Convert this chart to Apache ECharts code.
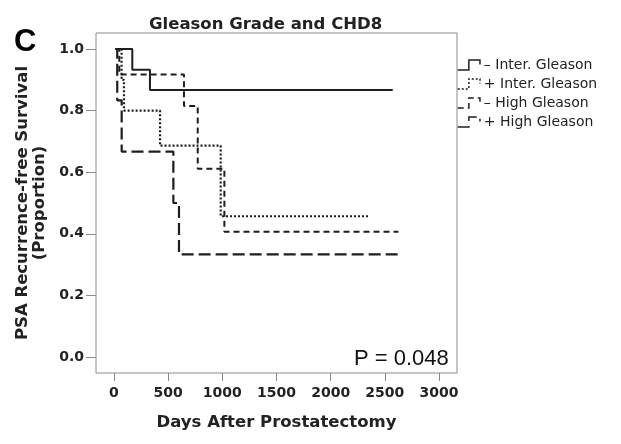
<!DOCTYPE html>
<html lang="en">
<head>
    <meta charset="UTF-8">
    <title>Gleason Grade and CHD8</title>
    <style>
        * {
            margin: 0;
            padding: 0;
        }

        html, body {
            width: 100%;
            height: 100%;
            background: #fff;
        }

        #chart {
            width: 621px;
            height: 444px;
        }
    </style>
    <script src="https://cdn.jsdelivr.net/npm/echarts@6/dist/echarts.min.js"></script>
</head>
<body>
<div id="chart"></div>
<script>
    // series names (CHD8 status - / + within each Gleason group)
    const seriesNames = ['– Inter. Gleason', '+ Inter. Gleason', '– High Gleason', '+ High Gleason']

    // Kaplan-Meier steps (days, proportion)
    const interMinusDays = [15, 169, 332, 2573]
    const interMinusSurv = [1, 0.933, 0.867, 0.867]
    const interPlusDays = [30, 70, 92, 425, 985, 2351]
    const interPlusSurv = [1, 0.9, 0.8, 0.686, 0.457, 0.457]
    const highMinusDays = [20, 49, 646, 773, 1019, 2625]
    const highMinusSurv = [1, 0.917, 0.815, 0.611, 0.407, 0.407]
    const highPlusDays = [10, 30, 71, 548, 600, 2634]
    const highPlusSurv = [1, 0.833, 0.667, 0.5, 0.333, 0.333]

    // tick labels
    const xTicks = [0, 500, 1000, 1500, 2000, 2500, 3000]
    const yTicks = [0, 0.2, 0.4, 0.6, 0.8, 1.0]

    const pValueText = 'P = 0.048'

    function zip(xs, ys) {
        return xs.map((x, i) => [x, ys[i]])
    }

    const lineColor = '#1e1e1e'
    const styles = [
        {type: 'solid', width: 2},
        {type: [2, 2], width: 2.2},
        {type: [6, 4], width: 2},
        {type: [12, 5], width: 2.2}
    ]
    const stepIcon = 'path://M0,10 L10,10 L10,1 L20,1 L20,5'

    const chart = echarts.init(document.getElementById('chart'))
    const labelFont = {
        fontFamily: 'DejaVu Sans',
        fontWeight: 'bold',
        fontSize: 14,
        color: '#222'
    }

    const option = {
        animation: false,
        title: {
            text: 'Gleason Grade and CHD8',
            left: 144,
            top: 11,
            textStyle: {
                fontFamily: 'DejaVu Sans',
                fontWeight: 'bold',
                fontSize: 16.5,
                color: '#222'
            }
        },
        grid: {
            left: 96,
            top: 33,
            right: 164,
            bottom: 71,
            show: true,
            borderColor: '#8a8a8a',
            borderWidth: 1,
            backgroundColor: '#fff'
        },
        legend: {
            orient: 'vertical',
            left: 457,
            top: 58,
            itemWidth: 26,
            itemHeight: 10,
            itemGap: 5,
            padding: 0,
            textStyle: {
                fontFamily: 'DejaVu Sans',
                fontSize: 14,
                color: '#222',
                padding: [0, 0, 0, -3]
            },
            data: seriesNames.map((n, i) => ({
                name: n,
                icon: stepIcon,
                itemStyle: {
                    color: 'transparent',
                    borderColor: lineColor,
                    borderWidth: 1.5,
                    borderType: styles[i].type
                }
            }))
        },
        xAxis: {
            type: 'value',
            min: -166,
            max: 3166,
            name: 'Days After Prostatectomy',
            nameLocation: 'middle',
            nameGap: 41,
            nameTextStyle: Object.assign({}, labelFont, {fontSize: 16.5}),
            axisLine: {show: false, onZero: false},
            splitLine: {show: false},
            axisTick: {
                show: true,
                length: 8,
                customValues: xTicks,
                lineStyle: {color: '#8a8a8a'}
            },
            axisLabel: Object.assign({}, labelFont, {
                customValues: xTicks,
                margin: 13,
                formatter: v => String(v)
            })
        },
        yAxis: {
            type: 'value',
            min: -0.052,
            max: 1.052,
            name: 'PSA Recurrence-free Survival\n(Proportion)',
            nameLocation: 'middle',
            nameRotate: 90,
            nameGap: 43,
            nameTextStyle: Object.assign({}, labelFont, {fontSize: 16.5, lineHeight: 17}),
            axisLine: {show: false, onZero: false},
            splitLine: {show: false},
            axisTick: {
                show: true,
                length: 10,
                customValues: yTicks,
                lineStyle: {color: '#8a8a8a'}
            },
            axisLabel: Object.assign({}, labelFont, {
                customValues: yTicks,
                margin: 12,
                formatter: v => v.toFixed(1)
            })
        },
        graphic: [
            {
                type: 'text',
                left: 14,
                top: 27,
                style: {
                    text: 'C',
                    font: 'bold 31px "Liberation Sans"',
                    fill: '#000'
                }
            },
            {
                type: 'text',
                left: 354,
                top: 348,
                style: {
                    text: pValueText,
                    font: '22px "Liberation Sans"',
                    fill: '#111'
                }
            }
        ],
        series: [
            zip(interMinusDays, interMinusSurv),
            zip(interPlusDays, interPlusSurv),
            zip(highMinusDays, highMinusSurv),
            zip(highPlusDays, highPlusSurv)
        ].map((d, i) => ({
            name: seriesNames[i],
            type: 'line',
            step: 'end',
            symbol: 'none',
            data: d,
            color: lineColor,
            lineStyle: {
                color: lineColor,
                width: styles[i].width,
                type: styles[i].type
            }
        }))
    }
    chart.setOption(option)
</script>
</body>
</html>
